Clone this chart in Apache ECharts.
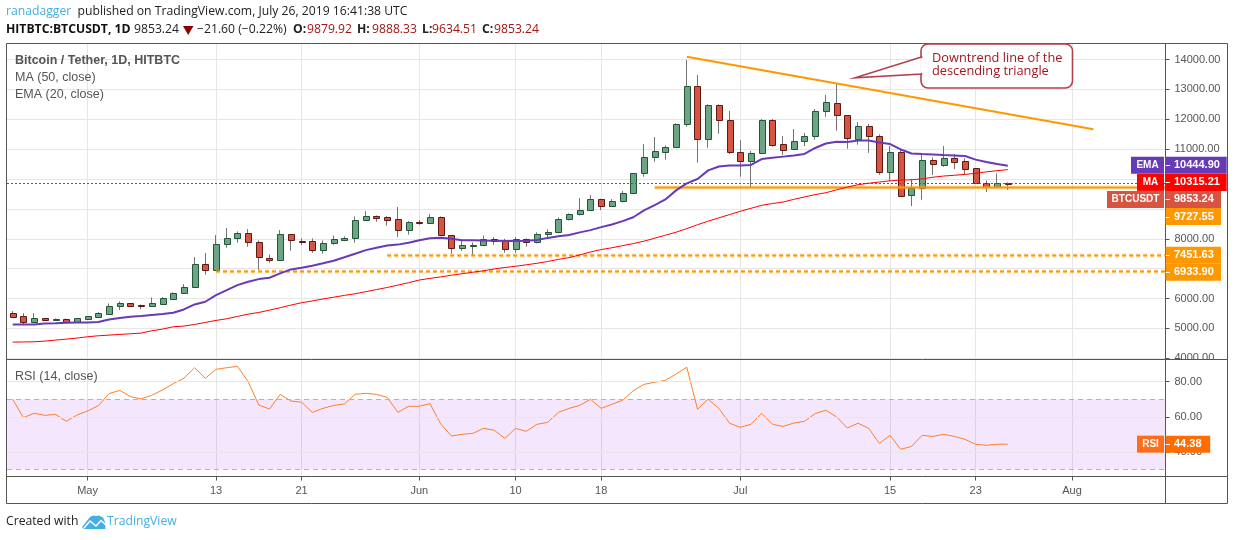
<!DOCTYPE html>
<html><head><meta charset="utf-8">
<style>html,body{margin:0;padding:0;background:#fff}#c{width:1234px;height:540px}</style>
<script src="https://cdn.jsdelivr.net/npm/echarts@6/dist/echarts.min.js"></script>
</head><body><div id="c"></div>
<script>
// x positions are day numbers counted from Apr 24, 2019
const tickIndex = [7,19,27,38,47,55,68,82,90,99];
const tickLabels = ['May','13','21','Jun','10','18','Jul','15','23','Aug'];
const opens = [5502,5401,5223,5335,5290,5301,5223,5323,5390,5490,5758,5836,5781,5758,5825,5993,6171,6372,7142,6964,7812,8013,8180,7879,7365,7276,8147,7934,7912,7633,7850,7967,8012,8615,8749,8715,8648,8280,8559,8537,8715,8113,7677,7767,7778,7979,7912,7644,7979,7878,8146,8213,8648,8816,8950,9318,9084,9252,9519,10189,10725,10892,11059,11830,13102,11327,12466,11963,10892,10613,10859,11963,11160,10993,11260,11428,12264,12532,12130,11349,11762,11427,10222,10892,9452,9686,10624,10479,10713,10590,10356,9876,9742,9879.92];
const closes = [5390,5223,5335,5290,5312,5223,5335,5401,5502,5758,5836,5758,5758,5836,6004,6171,6372,7142,6964,7812,8013,8180,7879,7377,7276,8147,7946,7890,7633,7845,7979,8012,8615,8749,8704,8637,8280,8548,8537,8715,8113,7677,7778,7790,7979,7912,7644,7979,7878,8146,8213,8648,8816,8950,9318,9084,9252,9519,10189,10725,10926,11059,11830,13102,11327,12466,11963,10892,10613,10859,11963,11149,10981,11260,11428,12264,12565,12130,11360,11762,11427,10222,10892,9441,9686,10624,10512,10713,10579,10345,9876,9742,9876,9853.24];
const lows = [5346,5145,5178,5285,5267,5212,5215,5300,5379,5480,5613,5725,5647,5750,5814,5982,6160,6361,6796,6919,7700,7868,7734,6953,7198,7265,7600,7789,7532,7499,7800,7934,7867,8604,8570,8436,8057,8135,8470,8530,8100,7499,7600,7443,7767,7800,7532,7532,7733,7845,8023,8180,8615,8782,8938,8960,9073,9218,9510,10077,10580,10647,11048,11751,10546,11048,11517,10836,10077,9743,10847,11082,10803,10981,11104,11316,12086,11617,11014,11148,10880,10144,9932,9407,9095,9307,10133,10412,10334,10166,9853,9563,9742,9634.51];
const highs = [5580,5513,5513,5340,5335,5335,5340,5410,5547,5836,5904,5848,5800,6037,6049,6205,6484,7388,7522,8124,8359,8247,8325,7946,7477,8292,8147,8012,8012,7945,8112,8079,8749,8927,8782,8760,9061,8592,8626,8827,8749,8113,7934,7878,8112,8057,8000,8057,8012,8213,8313,8715,8849,9363,9463,9340,9330,9597,10200,11171,11405,11126,11863,13983,13481,12499,12499,12276,11305,10937,12008,12008,11439,11673,11539,12343,12811,13179,12130,11907,11840,11494,11104,10970,9999,10802,10724,11104,10836,10690,10356,9954,10188,9888.33];
const ma50 = [4542,4548,4553,4575,4609,4642,4676,4721,4754,4776,4799,4821,4843,4921,4977,5055,5078,5134,5200,5267,5323,5401,5479,5535,5613,5692,5781,5859,5920,5985,6045,6105,6160,6230,6300,6370,6450,6530,6620,6675,6725,6780,6830,6880,6930,6990,7040,7080,7130,7180,7240,7310,7370,7460,7560,7640,7700,7770,7840,7920,8020,8120,8220,8340,8470,8590,8700,8810,8920,9020,9120,9180,9230,9320,9400,9480,9541,9640,9730,9810,9860,9900,9940,9965,9975,10005,10060,10100,10125,10155,10190,10240,10280,10315.21];
const ema20 = [5134,5134,5134,5167,5173,5189,5200,5200,5212,5300,5346,5390,5413,5446,5479,5524,5636,5803,5892,6116,6283,6450,6562,6651,6696,6841,6975,7031,7100,7180,7264,7380,7500,7620,7700,7778,7805,7870,7950,8020,8035,8000,7950,7950,7940,7935,7925,7930,7935,7960,8030,8085,8130,8215,8290,8390,8480,8590,8720,8950,9130,9318,9620,9854,10000,10290,10420,10450,10455,10470,10670,10710,10750,10790,10840,11040,11190,11250,11240,11290,11290,11225,11170,10990,10855,10835,10825,10805,10790,10770,10650,10570,10500,10444.90];
const rsi14 = [70,59.5,62,60.8,61.4,57.4,61,63.3,66.3,73.2,75.1,71.5,70.2,72.3,75.3,78.9,82,88,82,87.1,88,88.8,80.1,66.7,64.4,72.8,69,68.3,62.5,64.8,66.5,67.3,72.8,73.4,72.8,71.1,62.5,66,66,67.5,55.9,49,50,50.5,53.4,52.3,47.7,53.4,51.7,55.7,56.8,62.5,64.8,66.5,70,64.8,67.1,69.4,74.9,78.5,79.7,80.8,84.4,88.3,64.3,70,64.8,56.3,54,55.7,62,55.7,54.5,56.4,57.4,61.8,63.7,59.9,53.6,56.3,53.4,44.8,49.4,41.4,43.1,49.4,48.8,50,48.8,47.1,44.3,43.7,44.3,44.38];
const priceTicks = [4000,5000,6000,7000,8000,9000,10000,11000,12000,13000,14000];
const rsiTicks = [40,60,80];
const trendIndex = [63,101];
const trendValues = [14094,11663];
const levelStart = [60,35,19,0];
const levelValues = [9727.55,7451.63,6933.90,9853.24];
const tagNames = ['EMA','MA','BTCUSDT','','',''];
const tagValues = [10444.90,10315.21,9853.24,9727.55,7451.63,6933.90];
const rsiLast = 44.38;

const UI = '"Open Sans",sans-serif';
const AX = '"Liberation Sans",sans-serif';
const GREY = '#555';
const GL=7, GW=1158.5, XMIN=-0.533, XMAX=107.74;
const pairs = arr => arr.map((v,i)=>[i,v]);
const candleRows = opens.map((o,i)=>[i,o,closes[i],lows[i],highs[i]]);

const chart = echarts.init(document.getElementById('c'),null,{renderer:'canvas',width:1234,height:540});

function bodyItem(params,api){
  const x=Math.round(api.coord([api.value(0),0])[0]);
  const o=api.value(1),c=api.value(2);
  const y1=Math.round(api.coord([0,Math.max(o,c)])[1])+.5;
  const y2=Math.round(api.coord([0,Math.min(o,c)])[1])+.5;
  const up=c>=o;
  return {type:'rect',shape:{x:x-2.5,y:y1,width:6,height:Math.max(y2-y1,1)},
    style:{fill:up?'#6ba583':'#d75442',stroke:up?'#225437':'#5b1a13',lineWidth:1}};
}
function levelItem(params,api){
  const i=params.dataIndex, cs=params.coordSys;
  const p=api.coord([api.value(0),api.value(1)]);
  const x1=i===3?cs.x:p[0], x2=cs.x+cs.width, y=Math.round(p[1])+.5;
  if(i===3) return {type:'line',shape:{x1,y1:y,x2,y2:y},style:{stroke:'#b5382a',lineWidth:1,lineDash:[2,2]}};
  const dash=i===0?null:[4,3];
  return {type:'group',children:[
    {type:'line',shape:{x1,y1:y,x2,y2:y},style:{stroke:'rgba(255,152,0,.28)',lineWidth:4,lineDash:dash}},
    {type:'line',shape:{x1,y1:y,x2,y2:y},style:{stroke:'#ff9800',lineWidth:2,lineDash:dash}}]};
}
const xBase = {type:'value',min:XMIN,max:XMAX,
  axisLine:{show:false,onZero:false},
  axisTick:{show:false,customValues:tickIndex},
  axisLabel:{show:false,customValues:tickIndex},
  splitLine:{show:true,lineStyle:{color:'#e6e6e6',width:1}}};

chart.setOption({
  animation:false,
  backgroundColor:'#fff',
  grid:[
    {left:GL,top:43.5,width:GW,height:316,containLabel:false},
    {left:GL,top:359.5,width:GW,height:117,containLabel:false}
  ],
  xAxis:[
    Object.assign({},xBase,{gridIndex:0}),
    Object.assign({},xBase,{gridIndex:1,
      axisTick:{show:true,customValues:tickIndex,length:4,lineStyle:{color:GREY}},
      axisLabel:{show:true,customValues:tickIndex,margin:9,color:GREY,fontFamily:AX,fontSize:11,
        formatter:(v)=>tickLabels[tickIndex.indexOf(v)]||''}})
  ],
  yAxis:[
    {type:'value',gridIndex:0,position:'right',min:3960,max:14536,z:2,
     axisLine:{show:false,onZero:false},
     axisTick:{show:true,length:4,customValues:priceTicks,lineStyle:{color:GREY}},
     axisLabel:{show:true,margin:9,color:GREY,fontFamily:AX,fontSize:11,customValues:priceTicks,formatter:v=>v.toFixed(2)},
     splitLine:{show:true,lineStyle:{color:'#e6e6e6',width:1}}},
    {type:'value',gridIndex:1,position:'right',min:25.9,max:92.7,z:5,
     axisLine:{show:false,onZero:false},
     axisTick:{show:true,length:4,customValues:rsiTicks,lineStyle:{color:GREY}},
     axisLabel:{show:true,margin:9,color:GREY,fontFamily:AX,fontSize:11,customValues:rsiTicks,formatter:v=>v.toFixed(2)},
     splitLine:{show:true,lineStyle:{color:'#e6e6e6',width:1}}}
  ],
  series:[
    {name:'BTCUSDT',type:'candlestick',xAxisIndex:0,yAxisIndex:0,data:candleRows,barWidth:1,z:2,
     itemStyle:{color:'#737375',color0:'#737375',borderColor:'#737375',borderColor0:'#737375',borderWidth:1}},
    {name:'bodies',type:'custom',xAxisIndex:0,yAxisIndex:0,z:3,
     data:opens.map((o,i)=>[i,o,closes[i]]),encode:{x:0,y:[1,2]},renderItem:bodyItem},
    {name:'MA',type:'line',xAxisIndex:0,yAxisIndex:0,data:pairs(ma50),showSymbol:false,z:4,lineStyle:{color:'#ff0000',width:1}},
    {name:'EMA',type:'line',xAxisIndex:0,yAxisIndex:0,data:pairs(ema20),showSymbol:false,z:4,lineStyle:{color:'#673ab7',width:2}},
    {name:'levels',type:'custom',xAxisIndex:0,yAxisIndex:0,z:4,clip:false,
     data:levelStart.map((s,i)=>[s,levelValues[i]]),encode:{x:0,y:1},renderItem:levelItem},
    {name:'trend',type:'line',xAxisIndex:0,yAxisIndex:0,showSymbol:false,z:5,
     data:trendIndex.map((x,i)=>[x,trendValues[i]]),lineStyle:{color:'#ff9800',width:2}},
    {name:'RSI',type:'line',xAxisIndex:1,yAxisIndex:1,data:pairs(rsi14),showSymbol:false,z:4,lineStyle:{color:'#ff7f2a',width:1},
     markArea:{silent:true,itemStyle:{color:'rgba(155,39,235,0.11)'},data:[[{yAxis:30},{yAxis:70}]]},
     markLine:{silent:true,symbol:'none',label:{show:false},lineStyle:{color:'#b9adc4',type:[5,4],width:1},data:[{yAxis:70},{yAxis:30}]}}
  ]
});

function txt(x,y,text,o){o=o||{};return {type:'text',x,y,z:o.z||20,silent:true,style:{text,fill:o.c||'#222',font:(o.w||'normal')+' '+(o.s||12.2)+'px '+(o.f||UI),textVerticalAlign:'middle',verticalAlign:'middle',align:o.a||'left',textAlign:o.a||'left'}};}
function rect(x,y,w,h,fill,z){return {type:'rect',z:z,silent:true,shape:{x,y,width:w,height:h},style:{fill}};}
function hl(x1,y1,x2,y2,z){return {type:'line',z:z||9,silent:true,shape:{x1,y1,x2,y2},style:{stroke:GREY,lineWidth:1}};}

const tagOffset=[-.5,12.8,16,29.4,.2,1.7];
const tagColor=['#673ab7','#ff0000','#d75442','#ff9800','#ff9800','#ff9800'];
const tagRight=[1226.7,1226.7,1221,1221,1221,1221];
const tagLeft=[1131,1137,1107,0,0,0];
const els=[];
els.push(rect(1166,360,61,116,'#fff',3));
tagValues.forEach((v,i)=>{
  const yc=chart.convertToPixel({yAxisIndex:0},v)+tagOffset[i];
  const top=yc-8.5;
  els.push(rect(1165.6,top,tagRight[i]-1165.6,17,tagColor[i],10));
  els.push({type:'line',z:11,silent:true,shape:{x1:1165.6,y1:Math.round(yc)+.5,x2:1170,y2:Math.round(yc)+.5},style:{stroke:'#fff',lineWidth:1}});
  els.push(txt(1174,yc,v.toFixed(2),{c:'#fff',f:AX,s:11,w:'bold',z:11}));
  if(tagNames[i]){
    els.push(rect(tagLeft[i],top,1164-tagLeft[i],17,tagColor[i],10));
    els.push(txt((tagLeft[i]+1164)/2,yc,tagNames[i],{c:'#fff',f:AX,s:10,w:'bold',z:11,a:'center'}));
  }
});
const ry=chart.convertToPixel({yAxisIndex:1},rsiLast);
els.push(rect(1165.6,ry-8.5,44.6,17,'#ff6d00',10));
els.push(rect(1137,ry-8.5,27,17,'#ff6d1a',10));
els.push({type:'line',z:11,silent:true,shape:{x1:1165.6,y1:Math.round(ry)+.5,x2:1170,y2:Math.round(ry)+.5},style:{stroke:'#fff',lineWidth:1}});
els.push(txt(1174,ry,rsiLast.toFixed(2),{c:'#fff',f:AX,s:11,w:'bold',z:11}));
els.push(txt(1150.5,ry,'RSI',{c:'#fff',f:AX,s:10,w:'bold',z:11,a:'center'}));

// frame
els.push(hl(6.5,43.5,1227.5,43.5),hl(6.5,359.5,1227.5,359.5),hl(6.5,476.5,1227.5,476.5),hl(6.5,503.5,1227.5,503.5));
els.push(hl(6.5,43.5,6.5,503.5),hl(1165.5,43.5,1165.5,503.5),hl(1227.5,43.5,1227.5,503.5));

// callout
els.push({type:'rect',z:12,silent:true,shape:{x:921,y:44,width:151.5,height:44,r:7},style:{fill:'rgba(255,255,255,.92)',stroke:'#b2414e',lineWidth:1.6}});
els.push({type:'polygon',z:12,silent:true,shape:{points:[[921.5,57],[855,77.8],[921.5,74]]},style:{fill:'#fff',stroke:'#b2414e',lineWidth:1.6}});
els.push({type:'line',z:12,silent:true,shape:{x1:921.8,y1:58.2,x2:921.8,y2:72.8},style:{stroke:'#fff',lineWidth:3.2}});
els.push(txt(932,58.5,'Downtrend line of the',{c:'#a31621',s:12.8,z:13}));
els.push(txt(932,71,'descending triangle',{c:'#a31621',s:12.8,z:13}));

// legends inside panes
els.push(txt(15,60.5,'Bitcoin / Tether, 1D, HITBTC',{c:'#555',w:'bold',f:AX,s:12.5}));
els.push(txt(15,77.5,'MA (50, close)',{c:'#555',f:AX,s:12.5}));
els.push(txt(15,95,'EMA (20, close)',{c:'#555',f:AX,s:12.5}));
els.push(txt(15,376.5,'RSI (14, close)',{c:'#555',f:AX,s:12.5}));

// header
els.push(txt(6,12,'ranadagger',{c:'#45aee5'}));
els.push(txt(77.5,12,'published on TradingView.com, July 26, 2019 16:41:38 UTC',{c:'#222'}));
els.push(txt(6,29.5,'HITBTC:BTCUSDT, 1D',{c:'#111',w:'bold'}));
els.push(txt(134,29.5,'9853.24',{c:'#222'}));
els.push({type:'polygon',z:20,silent:true,shape:{points:[[183,26],[193.5,26],[188.2,35]]},style:{fill:'#8b0000'}});
els.push(txt(197,29.5,'\u221221.60 (\u22120.22%)',{c:'#222'}));
[['O:',293,'9879.92',307],['H:',357,'9888.33',372],['L:',422,'9634.51',432],['C:',482,'9853.24',494]].forEach(r=>{
  els.push(txt(r[1],29.5,r[0],{c:'#222',w:'bold'}));
  els.push(txt(r[3],29.5,r[2],{c:'#a31515'}));
});

// footer
els.push(txt(6,522,'Created with',{c:'#222'}));
els.push({type:'polygon',z:20,silent:true,shape:{points:[[82,527],[90,517],[93,515.5],[96,516],[99,515.5],[103,517.5],[105,522],[105.5,529],[84,529]]},style:{fill:'#45aee5'}});
els.push({type:'polyline',z:21,silent:true,shape:{points:[[84,528],[90,521],[96,526],[101,520.5],[106,525]]},style:{stroke:'#fff',fill:'none',lineWidth:1.5}});
els.push(txt(107,522,'TradingView',{c:'#45aee5'}));

chart.setOption({graphic:{elements:els}});
</script></body></html>
